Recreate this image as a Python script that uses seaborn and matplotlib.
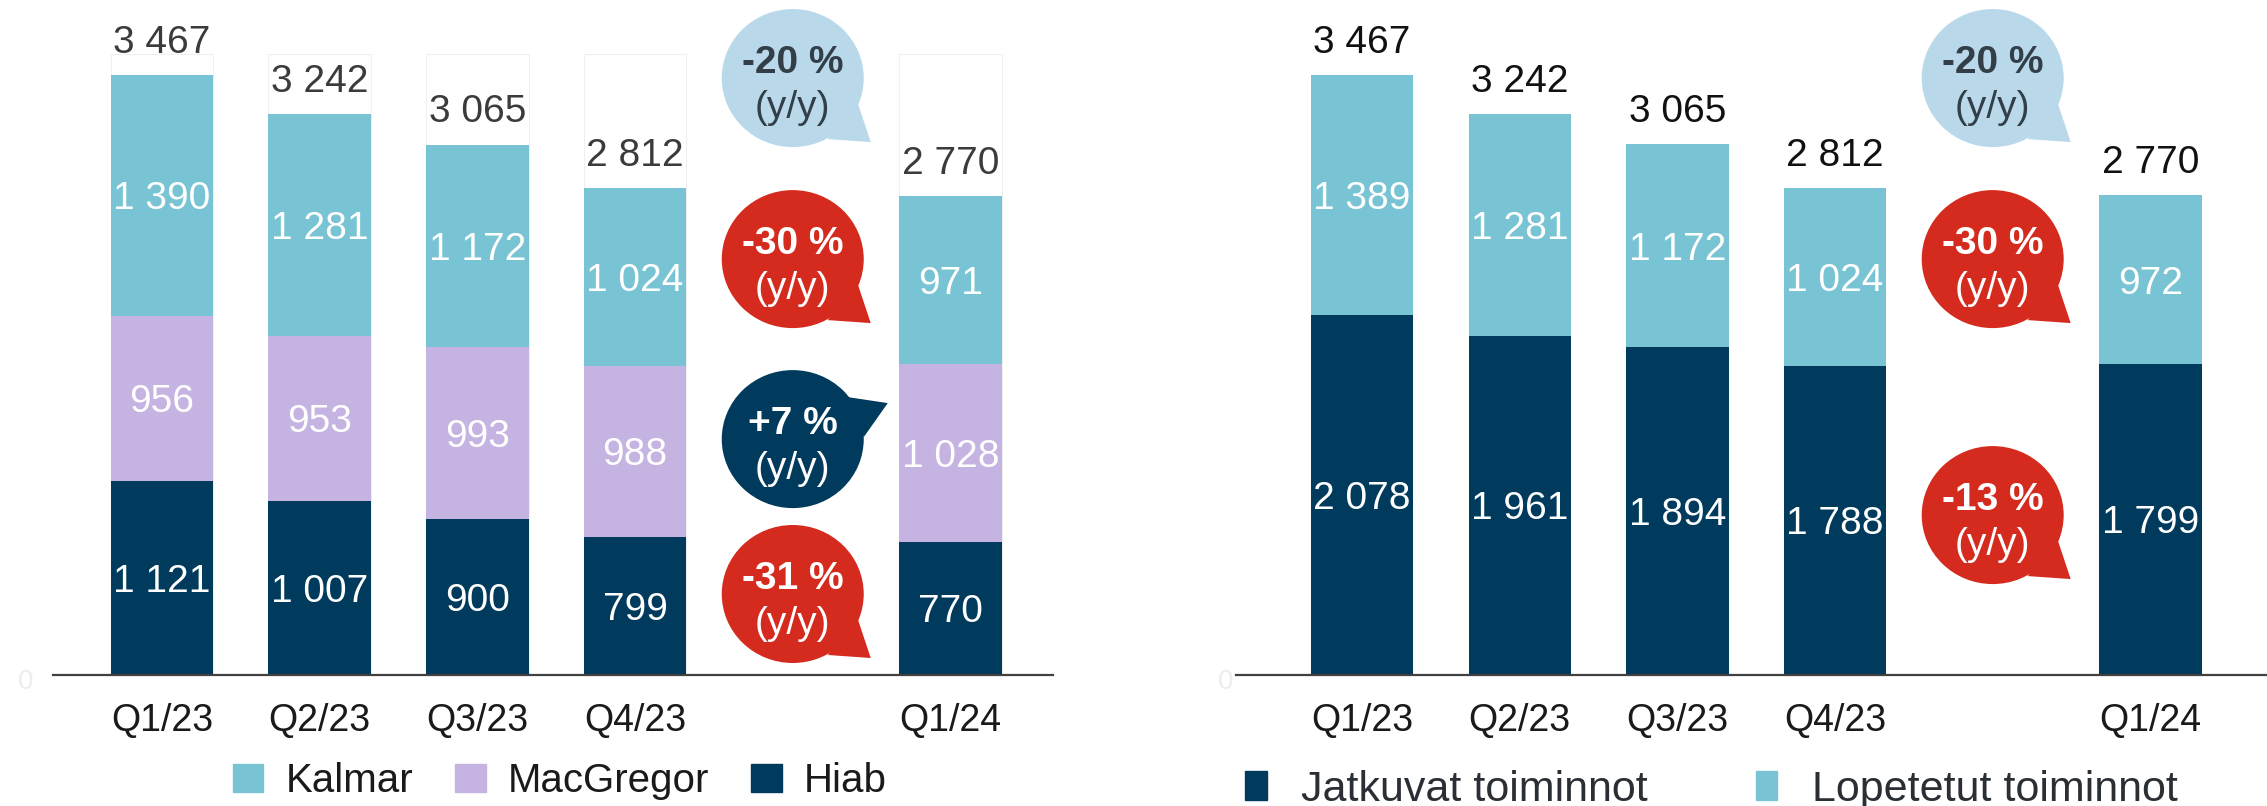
import matplotlib
matplotlib.use('Agg')
import matplotlib.pyplot as plt
from matplotlib.patches import Ellipse, Polygon, Patch
from matplotlib.transforms import IdentityTransform
import seaborn as sns

# Data
quarters = ['Q1/23', 'Q2/23', 'Q3/23', 'Q4/23', 'Q1/24']
positions = [0, 1, 2, 3, 5]  # slot 4 is left empty for the y/y bubbles

# Left chart: by business area
hiab = [1121, 1007, 900, 799, 770]
macgregor = [956, 953, 993, 988, 1028]
kalmar = [1390, 1281, 1172, 1024, 971]
totals = [3467, 3242, 3065, 2812, 2770]

# Right chart: continuing / discontinued operations
jatkuvat = [2078, 1961, 1894, 1788, 1799]
lopetetut = [1389, 1281, 1172, 1024, 972]

# y/y change bubbles (text, kind)
left_changes = [('-20 %', 'light'), ('-30 %', 'red'), ('+7 %', 'navy'), ('-31 %', 'red')]
right_changes = [('-20 %', 'light'), ('-30 %', 'red'), ('-13 %', 'red')]

# Colours
TEAL = '#79C4D4'
LAVENDER = '#C5B4E2'
NAVY = '#003A5C'
RED = '#D52B1E'
LIGHTBLUE = '#B9D9EB'
bubble_style = {'light': (LIGHTBLUE, '#333F48', 'down'),
                'red': (RED, 'white', 'down'),
                'navy': (NAVY, 'white', 'up')}

sns.set_style('white')
plt.rcParams['font.family'] = ['Liberation Sans', 'DejaVu Sans']

fig = plt.figure(figsize=(22.67, 8.06), dpi=100)
W, H = 2267, 806
ax1 = fig.add_axes([53 / W, 131 / H, 1000 / W, 675 / H])
ax2 = fig.add_axes([1236 / W, 131 / H, 1031 / W, 675 / H])


def stacked(ax, layers, colors, total_color, label_box=None):
    # faint white label boxes behind the totals (left chart only)
    if label_box:
        sns.barplot(x=positions, y=[label_box] * len(positions), color='white',
                    native_scale=True, width=0.65, saturation=1, linewidth=0.8,
                    edgecolor='#EFEFEF', errorbar=None, ax=ax)
    # cumulative tops, drawn tallest first so lower layers sit on top
    cum = [0] * len(positions)
    bottoms, tops = [], []
    for vals in layers:
        bottoms.append(list(cum))
        cum = [c + v for c, v in zip(cum, vals)]
        tops.append(list(cum))
    for top, col in reversed(list(zip(tops, colors))):
        sns.barplot(x=positions, y=top, color=col, native_scale=True, width=0.65,
                    saturation=1, linewidth=0, errorbar=None, ax=ax)
    # values inside the segments
    for vals, bot in zip(layers, bottoms):
        for p, v, b in zip(positions, vals, bot):
            ax.text(p, b + v / 2, f'{v:,}'.replace(',', ' '), ha='center',
                    va='center_baseline', color='white', fontsize=28)
    # totals on top
    for p, t, top in zip(positions, totals, tops[-1]):
        ax.annotate(f'{t:,}'.replace(',', ' '), (p, top), xytext=(0, 16),
                    textcoords='offset points', ha='center', va='baseline',
                    color=total_color, fontsize=28)


def bubble(ax, y, text, kind):
    face, txt, tail = bubble_style[kind]
    cx, cy = ax.transData.transform((4, y))
    tr = IdentityTransform()
    if tail == 'down':
        pts = [(65, -25), (78, -64), (35, -61)]
    else:
        pts = [(55, 42), (95, 36), (71, 2)]
    ax.add_patch(Polygon([(cx + dx, cy + dy) for dx, dy in pts], closed=True,
                         facecolor=face, edgecolor='none', transform=tr, zorder=5))
    ax.add_patch(Ellipse((cx, cy), 142, 138, facecolor=face, edgecolor='none',
                         transform=tr, zorder=5))
    ax.text(cx, cy + 19, text, transform=tr, ha='center', va='center_baseline',
            color=txt, fontsize=28, fontweight='bold', zorder=6)
    ax.text(cx, cy - 30, '(y/y)', transform=tr, ha='center', va='center',
            color=txt, fontsize=28, zorder=6)


stacked(ax1, [hiab, macgregor, kalmar], [NAVY, LAVENDER, TEAL], '#3B3B3B', label_box=3590)
stacked(ax2, [jatkuvat, lopetetut], [NAVY, TEAL], '#111111')

for ax, lo, hi, zx in [(ax1, -0.69, 5.65, -0.02), (ax2, -0.80, 5.74, -0.003)]:
    ax.set_xlim(lo, hi)
    ax.set_ylim(0, 3900)
    ax.set_xticks(positions)
    ax.set_xticklabels(quarters)
    ax.tick_params(axis='x', length=0, pad=20, labelsize=27, labelcolor='#1A1A1A')
    ax.set_yticks([])
    for s in ['top', 'right', 'left']:
        ax.spines[s].set_visible(False)
    ax.spines['bottom'].set_color('#404040')
    ax.spines['bottom'].set_linewidth(1.6)
    ax.set_facecolor('none')
    ax.text(zx, -40, '0', transform=ax.get_yaxis_transform(), ha='right',
            va='center', fontsize=20, color='#EDEDED', clip_on=False)

for y, (t, k) in zip([3449, 2403, 1363, 468], left_changes):
    bubble(ax1, y, t, k)
for y, (t, k) in zip([3449, 2403, 924], right_changes):
    bubble(ax2, y, t, k)

# Legends
h1 = [Patch(color=TEAL, label='Kalmar'), Patch(color=LAVENDER, label='MacGregor'),
      Patch(color=NAVY, label='Hiab')]
fig.legend(handles=h1, loc='center', bbox_to_anchor=(0.247, 0.031), ncol=3,
           frameon=False, fontsize=29, handlelength=0.75, handleheight=0.7,
           handletextpad=0.55, columnspacing=1.05, labelcolor='#1A1A1A')
h2 = [Patch(color=NAVY, label='Jatkuvat toiminnot'),
      Patch(color=TEAL, label='Lopetetut toiminnot')]
fig.legend(handles=h2, loc='center', bbox_to_anchor=(0.755, 0.020), ncol=2,
           frameon=False, fontsize=31, handlelength=0.5, handleheight=0.65,
           handletextpad=0.8, columnspacing=2.5, labelcolor='#2A2F35')

fig.savefig('out.png', dpi=100)
